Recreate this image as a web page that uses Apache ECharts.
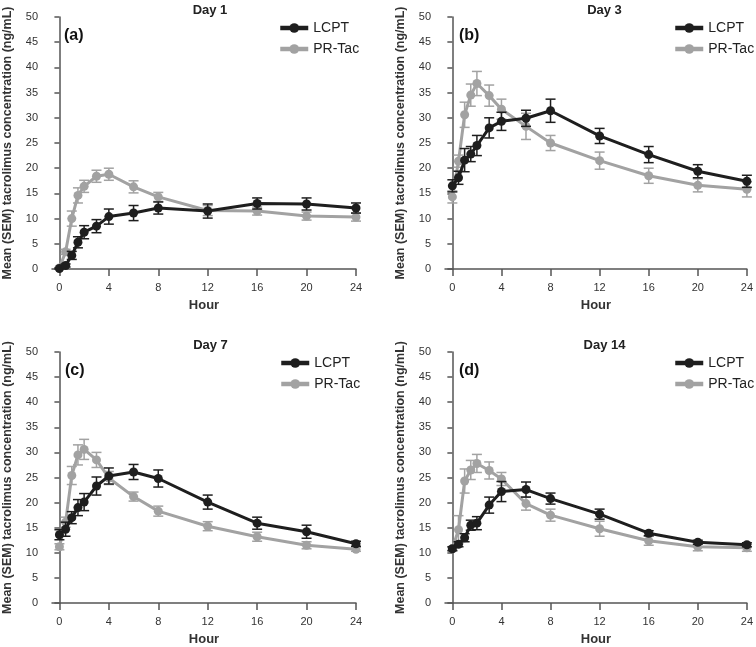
<!DOCTYPE html>
<html>
<head>
<meta charset="utf-8">
<script src="https://cdn.jsdelivr.net/npm/echarts@6/dist/echarts.min.js"></script>
<style>
html,body{margin:0;padding:0;background:#fff;}
#chart{width:756px;height:647px;}
</style>
</head>
<body>
<div id="chart"></div>
<script>
// ---- data ----
const hours = [0, 0.5, 1, 1.5, 2, 3, 4, 6, 8, 12, 16, 20, 24];
const xTicks = [0, 4, 8, 12, 16, 20, 24];
const yTicks = [0, 5, 10, 15, 20, 25, 30, 35, 40, 45, 50];
const panelTitles = ['Day 1', 'Day 3', 'Day 7', 'Day 14'];
const panelLetters = ['(a)', '(b)', '(c)', '(d)'];
const seriesNames = ['LCPT', 'PR-Tac'];

const lcptDay1  = [0.1, 0.7, 2.7, 5.3, 7.3, 8.5, 10.4, 11.1, 12.1, 11.5, 13.0, 12.9, 12.1];
const lcptDay1Sem = [0.1, 0.3, 0.8, 1.1, 1.3, 1.3, 1.5, 1.5, 1.2, 1.4, 1.1, 1.2, 1.0];
const prDay1    = [0.2, 3.4, 10.0, 14.6, 16.4, 18.4, 18.8, 16.3, 14.3, 11.6, 11.5, 10.5, 10.3];
const prDay1Sem = [0.1, 0.5, 1.5, 1.5, 1.2, 1.2, 1.2, 1.2, 0.9, 1.0, 0.8, 0.8, 0.8];

const lcptDay3  = [16.5, 18.1, 21.6, 22.8, 24.5, 28.0, 29.3, 29.9, 31.4, 26.4, 22.7, 19.4, 17.4];
const lcptDay3Sem = [1.2, 1.3, 2.3, 1.5, 2.0, 2.0, 1.8, 1.6, 2.3, 1.5, 1.6, 1.3, 1.2];
const prDay3    = [14.3, 21.4, 30.6, 34.5, 36.8, 34.4, 31.7, 28.3, 25.0, 21.5, 18.5, 16.6, 15.8];
const prDay3Sem = [1.2, 1.2, 2.5, 2.2, 2.4, 2.1, 2.0, 2.6, 1.5, 1.7, 1.5, 1.3, 1.5];

const lcptDay7  = [13.6, 14.7, 17.0, 19.0, 20.1, 23.3, 25.3, 26.1, 24.8, 20.1, 15.9, 14.2, 11.8];
const lcptDay7Sem = [1.0, 1.4, 1.2, 1.6, 1.7, 1.8, 1.6, 1.5, 1.7, 1.4, 1.2, 1.3, 0.5];
const prDay7    = [11.2, 16.1, 25.4, 29.5, 30.6, 28.5, 24.9, 21.2, 18.3, 15.3, 13.2, 11.5, 10.7];
const prDay7Sem = [0.6, 1.0, 1.8, 2.0, 2.0, 1.5, 1.3, 0.9, 1.0, 0.9, 0.9, 0.7, 0.4];

const lcptDay14 = [10.8, 11.7, 13.0, 15.5, 15.9, 19.5, 22.2, 22.6, 20.8, 17.7, 13.9, 12.1, 11.6];
const lcptDay14Sem = [0.4, 0.5, 0.8, 1.0, 1.3, 1.6, 2.0, 1.5, 1.1, 1.0, 0.5, 0.4, 0.4];
const prDay14   = [10.8, 14.6, 24.3, 26.5, 27.8, 26.4, 24.7, 19.8, 17.5, 14.8, 12.4, 11.2, 11.0];
const prDay14Sem = [0.3, 2.8, 2.4, 1.9, 1.8, 1.7, 1.3, 1.3, 1.2, 1.5, 0.9, 0.8, 0.7];

const lcptMeans = [lcptDay1, lcptDay3, lcptDay7, lcptDay14];
const lcptSems  = [lcptDay1Sem, lcptDay3Sem, lcptDay7Sem, lcptDay14Sem];
const prMeans   = [prDay1, prDay3, prDay7, prDay14];
const prSems    = [prDay1Sem, prDay3Sem, prDay7Sem, prDay14Sem];

// ---- style / layout ----
const FONT = 'Liberation Sans, Arial, sans-serif';
const DARK = '#1e1e1e';
const GRAY = '#a2a2a2';
const AXIS = '#555';
const grids = [
  {left: 50,  top: 17,  width: 306, height: 252},
  {left: 445, top: 17,  width: 305, height: 252},
  {left: 51,  top: 352, width: 305, height: 252},
  {left: 445, top: 352, width: 305, height: 252}
];

function errBars(means, sems) {
  return hours.map((h, i) => [h, means[i] - sems[i], means[i] + sems[i]]);
}
function renderErr(color) {
  return function (params, api) {
    const x = api.value(0);
    const lo = api.coord([x, api.value(1)]);
    const hi = api.coord([x, api.value(2)]);
    const w = 5;
    const st = {stroke: color, lineWidth: 1.5};
    return {
      type: 'group',
      children: [
        {type: 'line', shape: {x1: lo[0], y1: lo[1], x2: hi[0], y2: hi[1]}, style: st},
        {type: 'line', shape: {x1: lo[0] - w, y1: lo[1], x2: lo[0] + w, y2: lo[1]}, style: st},
        {type: 'line', shape: {x1: hi[0] - w, y1: hi[1], x2: hi[0] + w, y2: hi[1]}, style: st}
      ]
    };
  };
}

const xAxes = [], yAxes = [], series = [], titles = [], legends = [];
grids.forEach((g, k) => {
  xAxes.push({
    type: 'value', gridIndex: k, min: -0.6, max: 24,
    name: 'Hour', nameLocation: 'middle', nameGap: 30,
    nameTextStyle: {fontFamily: FONT, fontSize: 13, fontWeight: 'bold', color: '#333'},
    axisLine: {show: true, onZero: false, lineStyle: {color: AXIS, width: 1.5}},
    axisTick: {show: true, length: 7, customValues: xTicks, lineStyle: {color: AXIS, width: 1.5}},
    axisLabel: {customValues: xTicks, margin: 13, fontFamily: FONT, fontSize: 11, color: '#333'},
    splitLine: {show: false}
  });
  yAxes.push({
    type: 'value', gridIndex: k, min: 0, max: 50, interval: 5,
    name: 'Mean (SEM) tacrolimus concentration (ng/mL)', nameLocation: 'middle', nameGap: 38,
    nameTextStyle: {fontFamily: FONT, fontSize: 12.5, fontWeight: 'bold', color: '#333'},
    axisLine: {show: true, lineStyle: {color: AXIS, width: 1.5}},
    axisTick: {show: true, length: 5, lineStyle: {color: AXIS, width: 1.5}},
    axisLabel: {margin: 14, fontFamily: FONT, fontSize: 11, color: '#333'},
    splitLine: {show: false}
  });
  const cx = g.left + g.width / 2;
  titles.push({
    text: panelTitles[k], left: cx + 2, top: g.top - 18, textAlign: 'center',
    textStyle: {fontFamily: FONT, fontSize: 13, fontWeight: 'bold', color: '#222'}
  });
  titles.push({
    text: panelLetters[k], left: g.left + 9, top: g.top + 6,
    textStyle: {fontFamily: FONT, fontSize: 16, fontWeight: 'bold', color: '#111'}
  });
  legends.push({
    data: seriesNames, orient: 'vertical', left: g.left + 223, top: g.top - 1,
    itemWidth: 28, itemHeight: 12, itemGap: 7,
    lineStyle: {width: 4.5},
    textStyle: {fontFamily: FONT, fontSize: 14, color: '#222'}
  });
  // PR-Tac first, then LCPT on top
  series.push({
    name: 'PR-Tac SEM', type: 'custom', xAxisIndex: k, yAxisIndex: k,
    itemStyle: {color: GRAY},
    data: errBars(prMeans[k], prSems[k]), renderItem: renderErr(GRAY), z: 2, silent: true
  });
  series.push({
    name: 'PR-Tac', type: 'line', xAxisIndex: k, yAxisIndex: k,
    data: hours.map((h, i) => [h, prMeans[k][i]]),
    symbol: 'circle', symbolSize: 9, lineStyle: {color: GRAY, width: 3},
    itemStyle: {color: GRAY}, z: 3, animation: false
  });
  series.push({
    name: 'LCPT SEM', type: 'custom', xAxisIndex: k, yAxisIndex: k,
    itemStyle: {color: DARK},
    data: errBars(lcptMeans[k], lcptSems[k]), renderItem: renderErr(DARK), z: 4, silent: true
  });
  series.push({
    name: 'LCPT', type: 'line', xAxisIndex: k, yAxisIndex: k,
    data: hours.map((h, i) => [h, lcptMeans[k][i]]),
    symbol: 'circle', symbolSize: 9, lineStyle: {color: DARK, width: 3},
    itemStyle: {color: DARK}, z: 5, animation: false
  });
});

const chart = echarts.init(document.getElementById('chart'), null, {renderer: 'canvas'});
chart.setOption({
  animation: false,
  backgroundColor: '#fff',
  title: titles,
  legend: legends,
  grid: grids,
  xAxis: xAxes,
  yAxis: yAxes,
  series: series
});
</script>
</body>
</html>
